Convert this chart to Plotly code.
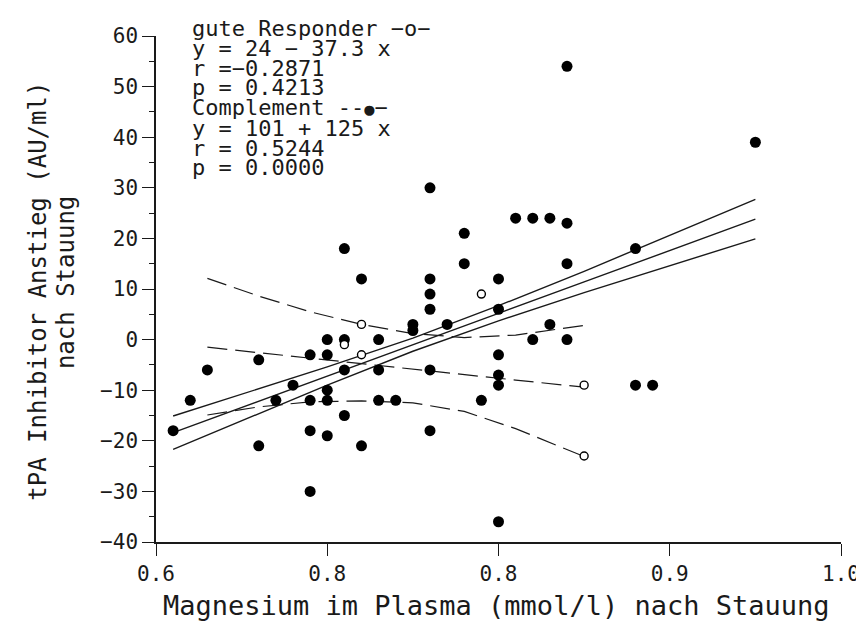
import plotly.graph_objects as go

# ---------------- data ----------------
# Complement (filled circles)
comp_x = [0.61, 0.62, 0.63, 0.66, 0.66, 0.67, 0.68, 0.69, 0.69, 0.69, 0.69,
          0.70, 0.70, 0.70, 0.70, 0.70, 0.71, 0.71, 0.71, 0.71, 0.72, 0.72,
          0.73, 0.73, 0.73, 0.74, 0.75, 0.75, 0.76, 0.76, 0.76, 0.76, 0.76,
          0.76, 0.77, 0.78, 0.78, 0.79, 0.80, 0.80, 0.80, 0.80, 0.80, 0.80,
          0.81, 0.82, 0.82, 0.83, 0.83, 0.84, 0.84, 0.84, 0.84, 0.88, 0.88,
          0.89, 0.95]
comp_y = [-18, -12, -6, -4, -21, -12, -9, -3, -12, -18, -30,
          0, -3, -10, -12, -19, 18, 0, -6, -15, 12, -21,
          0, -6, -12, -12, 3, 1.8, 30, 12, 9, 6, -6,
          -18, 3, 21, 15, -12, 12, 6, -3, -7, -9, -36,
          24, 24, 0, 24, 3, 54, 23, 15, 0, 18, -9,
          -9, 39]

# gute Responder (open circles)
gute_x = [0.71, 0.72, 0.72, 0.79, 0.85, 0.85]
gute_y = [-1, 3, -3, 9, -9, -23]

# Complement regression line with confidence band (solid)
comp_fit_x = [0.61, 0.65, 0.70, 0.75, 0.80, 0.85, 0.90, 0.95]
comp_fit_mid = [-18.4, -13.4, -7.2, -1.0, 5.2, 11.4, 17.6, 23.8]
comp_fit_up = [-15.1, -10.8, -5.4, 0.3, 6.7, 13.5, 20.6, 27.7]
comp_fit_lo = [-21.7, -16.0, -9.0, -2.3, 3.7, 9.3, 14.6, 19.9]

# gute Responder regression line with confidence band (dashed)
gute_fit_x = [0.63, 0.66, 0.69, 0.72, 0.75, 0.78, 0.81, 0.85]
gute_fit_mid = [-1.5, -2.6, -3.7, -4.7, -5.8, -6.9, -8.0, -9.4]
gute_fit_up = [12.1, 8.6, 5.5, 3.0, 1.2, 0.4, 0.9, 2.8]
gute_fit_lo = [-14.9, -13.3, -12.3, -12.1, -12.5, -14.2, -17.6, -23.1]

x_tickvals = [0.6, 0.7, 0.8, 0.9, 1.0]
x_ticktext = ["0.6", "0.8", "0.8", "0.9", "1.0"]
y_tickvals = [-40, -30, -20, -10, 0, 10, 20, 30, 40, 50, 60]
y_ticktext = ["\u221240", "\u221230", "\u221220", "\u221210", "0", "10", "20",
              "30", "40", "50", "60"]

stats_lines = ["gute Responder \u2212o\u2212", "y = 24 \u2212 37.3 x", "r =\u22120.2871",
               "p = 0.4213",
               "Complement --<span style='font-size:17px'>\u25cf</span>\u2212",
               "y = 101 + 125 x", "r = 0.5244", "p = 0.0000"]

x_title = "Magnesium im Plasma (mmol/l) nach Stauung"
y_title_1 = "tPA Inhibitor Anstieg (AU/ml)"
y_title_2 = "nach Stauung"

# ---------------- figure ----------------
FONT = "DejaVu Sans Mono"
INK = "#1a1a1a"
W, H = 864, 622
L, R, T, B = 147.5, 17.3, 28.3, 87.7
pw, ph = W - L - R, H - T - B

fig = go.Figure()

for ys in (comp_fit_up, comp_fit_mid, comp_fit_lo):
    fig.add_trace(go.Scatter(x=comp_fit_x, y=ys, mode="lines",
                             line=dict(color=INK, width=1.4), hoverinfo="skip"))
for ys in (gute_fit_up, gute_fit_mid, gute_fit_lo):
    fig.add_trace(go.Scatter(x=gute_fit_x, y=ys, mode="lines",
                             line=dict(color=INK, width=1.2, dash="20px,8px"),
                             hoverinfo="skip"))

fig.add_trace(go.Scatter(x=comp_x, y=comp_y, mode="markers", name="Complement",
                         marker=dict(symbol="circle", size=11, color="#000000",
                                     line=dict(width=0))))
fig.add_trace(go.Scatter(x=gute_x, y=gute_y, mode="markers", name="gute Responder",
                         marker=dict(symbol="circle", size=8, color="white",
                                     line=dict(width=1.4, color="#000000"))))


def py(ypx):
    return (H - B - ypx) / ph


def px(xpx):
    return (xpx - L) / pw


line_centers = [20.5, 40.5, 60.5, 80, 100, 120.5, 140.5, 160]
for txt, yc in zip(stats_lines, line_centers):
    fig.add_annotation(text=txt, xref="paper", yref="paper", x=px(182), y=py(yc),
                       xanchor="left", yanchor="middle", showarrow=False,
                       font=dict(family=FONT, size=22, color=INK))

fig.add_annotation(text=x_title, xref="paper", yref="paper", x=px(495), y=py(598),
                   xanchor="center", yanchor="middle", showarrow=False,
                   font=dict(family=FONT, size=27, color=INK))
fig.add_annotation(text=y_title_1, xref="paper", yref="paper", x=px(27), y=py(283),
                   xanchor="center", yanchor="middle", showarrow=False, textangle=-90,
                   font=dict(family=FONT, size=24, color=INK))
fig.add_annotation(text=y_title_2, xref="paper", yref="paper", x=px(55), y=py(275),
                   xanchor="center", yanchor="middle", showarrow=False, textangle=-90,
                   font=dict(family=FONT, size=24, color=INK))

fig.update_layout(
    width=W, height=H,
    margin=dict(l=L, r=R, t=T, b=B, pad=0),
    plot_bgcolor="white", paper_bgcolor="white",
    showlegend=False,
    xaxis=dict(range=[0.6, 1.0], tickvals=x_tickvals, ticktext=x_ticktext,
               ticks="outside", ticklen=12, tickwidth=1.3, tickcolor=INK,
               showline=True, linecolor=INK, linewidth=1.5,
               showgrid=False, zeroline=False, ticklabeloverflow="allow",
               tickfont=dict(family=FONT, size=21, color=INK)),
    yaxis=dict(range=[-40, 60], tickvals=y_tickvals, ticktext=y_ticktext,
               ticks="outside", ticklen=12, tickwidth=1.3, tickcolor=INK,
               showline=True, linecolor=INK, linewidth=1.5,
               showgrid=False, zeroline=False,
               minor=dict(dtick=5, tick0=0, ticks="outside", ticklen=5,
                          tickwidth=1.2, tickcolor=INK, showgrid=False),
               tickfont=dict(family=FONT, size=21, color=INK)),
)

fig.write_html("out.html")
